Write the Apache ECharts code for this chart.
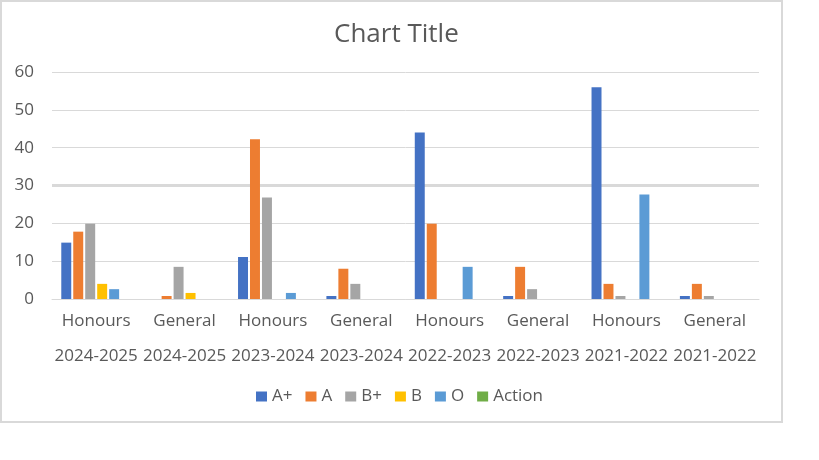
<!DOCTYPE html>
<html>
<head>
<meta charset="utf-8">
<title>Chart Title</title>
<script src="https://cdn.jsdelivr.net/npm/echarts@6/dist/echarts.min.js"></script>
<style>
  html, body { margin: 0; padding: 0; background: #fff; }
  .chart { width: 819px; height: 460px; }
</style>
</head>
<body>
<div class="chart"></div>
<script>
// 数据
var programmes = ['Honours', 'General', 'Honours', 'General', 'Honours', 'General', 'Honours', 'General'];
var years = ['2024-2025', '2024-2025', '2023-2024', '2023-2024', '2022-2023', '2022-2023', '2021-2022', '2021-2022'];
var yTicks = [0, 10, 20, 30, 40, 50, 60];

var aPlus = [14.9, 0, 11.1, 0.8, 44, 0.8, 56, 0.8];
var a = [17.8, 0.8, 42.2, 8, 19.9, 8.5, 4, 4];
var bPlus = [19.9, 8.5, 26.8, 4, 0, 2.6, 0.8, 0.8];
var b = [4, 1.6, 0, 0, 0, 0, 0, 0];
var o = [2.6, 0, 1.6, 0, 8.5, 0, 27.6, 0];
var action = [0, 0, 0, 0, 0, 0, 0, 0];

var seriesNames = ['A+', 'A', 'B+', 'B', 'O', 'Action'];
var seriesData = [aPlus, a, bPlus, b, o, action];
var colors = ['#4472C4', '#ED7D31', '#A5A5A5', '#FFC000', '#5B9BD5', '#70AD47'];

var categories = programmes.map(function (p, i) { return p + '\n' + years[i]; });

var chart = echarts.init(document.querySelector('.chart'));
var font = 'Open Sans';

var series = seriesNames.map(function (name, i) {
  return {
    name: name,
    type: 'bar',
    z: 10,
    data: seriesData[i],
    barGap: '20%',
    barCategoryGap: '21%',
    itemStyle: { color: colors[i] }
  };
});

// 30 那条线在原图里更粗，放在柱子下面
series.push({
  type: 'line',
  z: 1,
  data: [],
  markLine: {
    z: 1,
    silent: true,
    symbol: 'none',
    label: { show: false },
    lineStyle: { color: '#d9d9d9', width: 3, type: 'solid' },
    data: [{ yAxis: yTicks[3] }]
  }
});

var option = {
  color: colors,
  animation: false,
  title: {
    text: 'Chart Title',
    left: 329,
    top: 17,
    textStyle: { fontFamily: font, fontSize: 26, fontWeight: 'normal', color: '#595959' }
  },
  legend: {
    data: seriesNames,
    left: 251,
    top: 383,
    icon: 'rect',
    itemWidth: 11,
    itemHeight: 10,
    itemGap: 13,
    textStyle: { fontFamily: font, fontSize: 17, color: '#595959' }
  },
  grid: { left: 52, right: 60, top: 72, bottom: 161, containLabel: false },
  xAxis: {
    type: 'category',
    data: categories,
    axisLine: { lineStyle: { color: '#d9d9d9' } },
    axisTick: { length: 70, lineStyle: { color: '#d9d9d9' } },
    axisLabel: {
      interval: 0,
      margin: 5,
      lineHeight: 35,
      fontFamily: font,
      fontSize: 17,
      color: '#595959'
    }
  },
  yAxis: {
    type: 'value',
    min: yTicks[0],
    max: yTicks[yTicks.length - 1],
    interval: 10,
    axisLine: { show: false },
    axisTick: { show: false },
    splitLine: { lineStyle: { color: '#d9d9d9' } },
    axisLabel: { margin: 18, fontFamily: font, fontSize: 17, color: '#595959' }
  },
  graphic: [{
    type: 'rect',
    silent: true,
    shape: { x: 1, y: 1, width: 781, height: 421 },
    style: { fill: 'none', stroke: '#d9d9d9', lineWidth: 2 }
  }],
  series: series
};

chart.setOption(option);
</script>
</body>
</html>
